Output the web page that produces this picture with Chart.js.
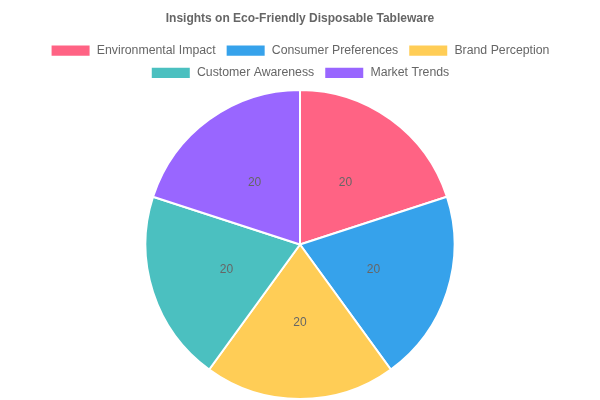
<!DOCTYPE html>
<html lang="en">
<head>
  <meta charset="UTF-8" />
  <title>Insights on Eco-Friendly Disposable Tableware</title>
  <script src="https://cdn.jsdelivr.net/npm/chart.js"></script>
  <style>
    * { margin: 0; padding: 0; box-sizing: border-box; }
    body { background: #fff; }
    .wrap { width: 600px; height: 400px; }
  </style>
</head>
<body>
  <div class="wrap"><canvas id="pie"></canvas></div>
  <script>
    const categories = ['Environmental Impact', 'Consumer Preferences', 'Brand Perception', 'Customer Awareness', 'Market Trends'];
    const values = [20, 20, 20, 20, 20];
    const colors = ['rgb(255, 99, 132)', 'rgb(54, 162, 235)', 'rgb(255, 205, 86)', 'rgb(75, 192, 192)', 'rgb(153, 102, 255)'];

    // draw the value in the middle of each slice
    const sliceLabels = {
      id: 'sliceLabels',
      afterDatasetsDraw(chart) {
        const ctx = chart.ctx;
        const meta = chart.getDatasetMeta(0);
        ctx.save();
        ctx.font = '12px "Liberation Sans", Arial, sans-serif';
        ctx.fillStyle = '#666';
        ctx.textAlign = 'center';
        ctx.textBaseline = 'middle';
        meta.data.forEach((arc, i) => {
          const p = arc.tooltipPosition();
          ctx.fillText(chart.data.datasets[0].data[i], p.x, p.y + 1);
        });
        ctx.restore();
      }
    };

    Chart.defaults.font.family = '"Liberation Sans", Arial, sans-serif';
    new Chart(document.getElementById('pie'), {
      type: 'pie',
      data: {
        labels: categories,
        datasets: [{ data: values, backgroundColor: colors, borderColor: '#fff', borderWidth: 2 }]
      },
      options: {
        responsive: true,
        maintainAspectRatio: false,
        animation: false,
        plugins: {
          title: { display: true, text: 'Insights on Eco-Friendly Disposable Tableware', font: { size: 12, weight: 'bold' }, padding: { top: 11, bottom: 9 } },
          legend: { position: 'top', labels: { font: { size: 12.3 } } }
        }
      },
      plugins: [sliceLabels]
    });
  </script>
</body>
</html>
